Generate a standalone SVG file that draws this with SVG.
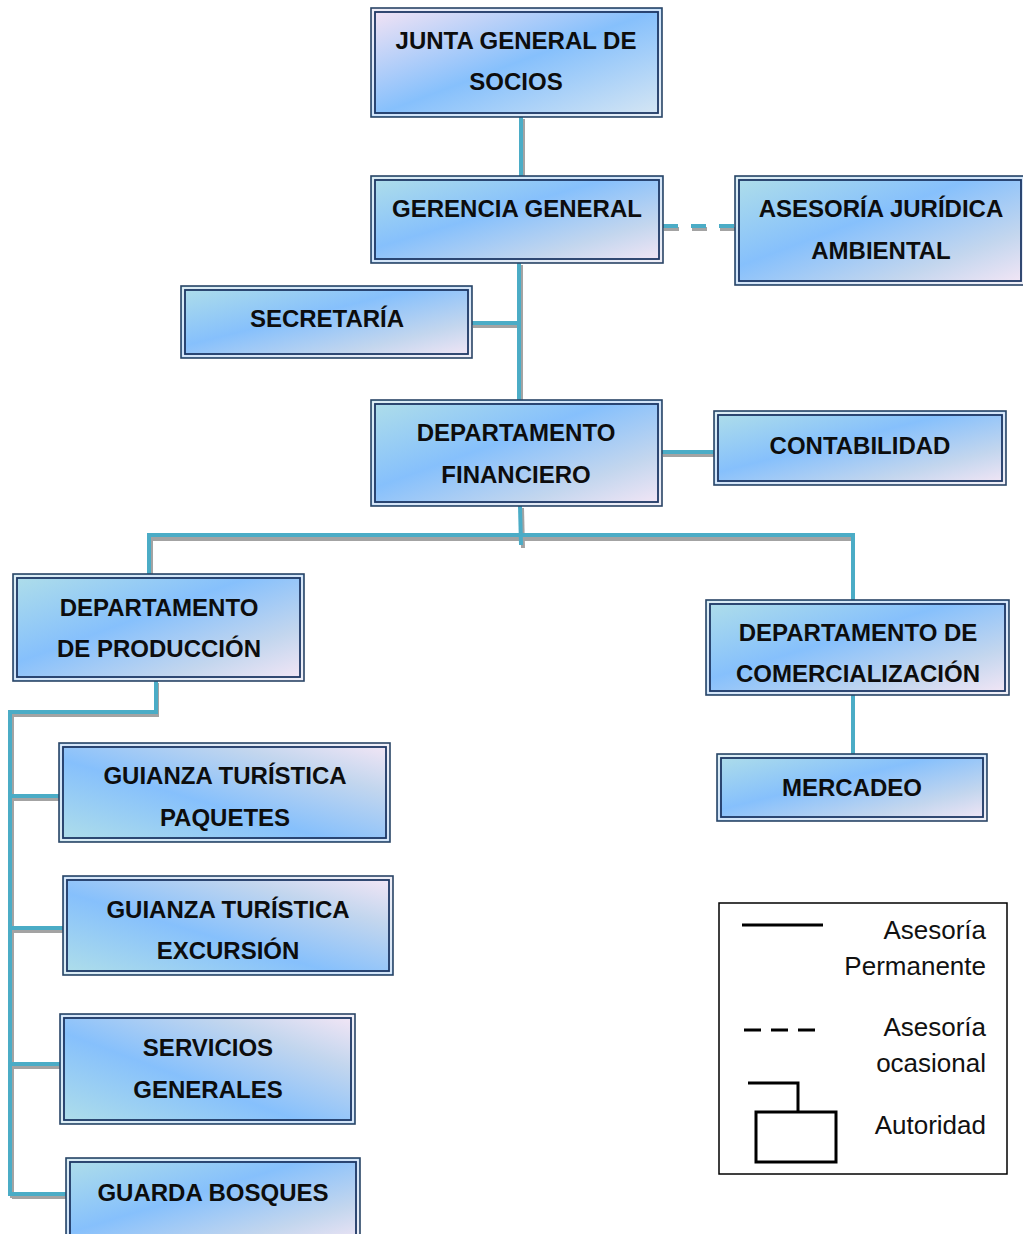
<svg xmlns="http://www.w3.org/2000/svg" width="1023" height="1234" viewBox="0 0 1023 1234">
  <defs>
    <!-- box fills: cyan -> sky blue -> lavender -->
    <linearGradient id="gA" x1="0" y1="0" x2="1" y2="1">
      <stop offset="0" stop-color="#b0dfe9"/>
      <stop offset="0.42" stop-color="#86c0fc"/>
      <stop offset="0.75" stop-color="#c3d6ee"/>
      <stop offset="1" stop-color="#f6e7f6"/>
    </linearGradient>
    <linearGradient id="gB" x1="0" y1="1" x2="1" y2="0">
      <stop offset="0" stop-color="#b0dfe9"/>
      <stop offset="0.42" stop-color="#86c0fc"/>
      <stop offset="0.75" stop-color="#c3d6ee"/>
      <stop offset="1" stop-color="#f6e7f6"/>
    </linearGradient>
    <linearGradient id="gC" x1="0" y1="0" x2="1" y2="1">
      <stop offset="0" stop-color="#f6e4f4"/>
      <stop offset="0.5" stop-color="#86c0fc"/>
      <stop offset="1" stop-color="#d8e7f3"/>
    </linearGradient>
  </defs>
  <style>
    .o { stroke: #2a4566; stroke-width: 1.6; }
    .g { fill: none; stroke: #eef3f8; stroke-width: 1.4; }
    .i { fill: none; stroke: #1f3864; stroke-width: 1.8; }
    .t { font-family: "Liberation Sans", Arial, sans-serif; font-weight: bold; font-size: 24px; fill: #0d0d0d; text-anchor: middle; }
    .sh { fill: none; stroke: #a3a3a3; stroke-width: 4; }
    .ln { fill: none; stroke: #4bacc6; stroke-width: 4; }
    .lg { font-family: "Liberation Sans", Arial, sans-serif; font-size: 26px; fill: #111; text-anchor: end; }
    .k { fill: none; stroke: #000; stroke-width: 3; }
  </style>
  <rect width="1023" height="1234" fill="#fff"/>

  <!-- connectors -->
  <g id="connectors">
    <!-- shadows -->
    <path class="sh" d="M523,119 V178"/>
    <path class="sh" d="M521,265 V402"/>
    <path class="sh" d="M473,326 H520"/>
    <path class="sh" d="M664,229 H735" stroke-dasharray="15 13"/>
    <path class="sh" d="M663,455 H715"/>
    <path class="sh" d="M522,508 L523,548"/>
    <path class="sh" d="M151,539 H851"/>
    <path class="sh" d="M151,539 V582"/>
    <path class="sh" d="M157,683 V715 H12"/>
    <path class="sh" d="M12,715 V1198"/>
    <path class="sh" d="M12,799 H60"/>
    <path class="sh" d="M12,931 H63"/>
    <path class="sh" d="M12,1067 H61"/>
    <path class="sh" d="M12,1197 H67"/>
    <!-- lines -->
    <path class="ln" d="M521,117 V176"/>
    <path class="ln" d="M519,263 V400"/>
    <path class="ln" d="M472,323 H519"/>
    <path class="ln" d="M663,226 H735" stroke-dasharray="15 13"/>
    <path class="ln" d="M662,452 H714"/>
    <path class="ln" d="M520,506 L521,545"/>
    <path class="ln" d="M147,535 H855"/>
    <path class="ln" d="M149,535 V579"/>
    <path class="ln" d="M853,533 V600"/>
    <path class="ln" d="M156,681 V712 H8"/>
    <path class="ln" d="M10,712 V1196"/>
    <path class="ln" d="M10,796 H59"/>
    <path class="ln" d="M10,928 H63"/>
    <path class="ln" d="M10,1064 H60"/>
    <path class="ln" d="M10,1194 H66"/>
    <path class="ln" d="M853,695 V754"/>
  </g>

  <g id="junta">
    <rect class="o" x="371" y="8" width="291" height="109" fill="url(#gC)"/>
    <rect class="g" x="373" y="10" width="287" height="105"/>
    <rect class="i" x="375" y="12" width="283" height="101"/>
    <text class="t" x="516" y="49">JUNTA GENERAL DE</text>
    <text class="t" x="516" y="90">SOCIOS</text>
  </g>

  <g id="gerencia">
    <rect class="o" x="371" y="176" width="292" height="87" fill="url(#gA)"/>
    <rect class="g" x="373" y="178" width="288" height="83"/>
    <rect class="i" x="375" y="180" width="284" height="79"/>
    <text class="t" x="517" y="217">GERENCIA GENERAL</text>
  </g>

  <g id="asesoria">
    <rect class="o" x="735" y="176" width="290" height="109" fill="url(#gA)"/>
    <rect class="g" x="737" y="178" width="286" height="105"/>
    <rect class="i" x="739" y="180" width="282" height="101"/>
    <text class="t" x="881" y="217">ASESORÍA JURÍDICA</text>
    <text class="t" x="881" y="259">AMBIENTAL</text>
  </g>

  <g id="secretaria">
    <rect class="o" x="181" y="286" width="291" height="72" fill="url(#gA)"/>
    <rect class="g" x="183" y="288" width="287" height="68"/>
    <rect class="i" x="185" y="290" width="283" height="64"/>
    <text class="t" x="327" y="327">SECRETARÍA</text>
  </g>

  <g id="financiero">
    <rect class="o" x="371" y="400" width="291" height="106" fill="url(#gA)"/>
    <rect class="g" x="373" y="402" width="287" height="102"/>
    <rect class="i" x="375" y="404" width="283" height="98"/>
    <text class="t" x="516" y="441">DEPARTAMENTO</text>
    <text class="t" x="516" y="483">FINANCIERO</text>
  </g>

  <g id="contabilidad">
    <rect class="o" x="714" y="411" width="292" height="74" fill="url(#gA)"/>
    <rect class="g" x="716" y="413" width="288" height="70"/>
    <rect class="i" x="718" y="415" width="284" height="66"/>
    <text class="t" x="860" y="454">CONTABILIDAD</text>
  </g>

  <g id="produccion">
    <rect class="o" x="13" y="574" width="291" height="107" fill="url(#gA)"/>
    <rect class="g" x="15" y="576" width="287" height="103"/>
    <rect class="i" x="17" y="578" width="283" height="99"/>
    <text class="t" x="159" y="616">DEPARTAMENTO</text>
    <text class="t" x="159" y="657">DE PRODUCCIÓN</text>
  </g>

  <g id="comercializacion">
    <rect class="o" x="706" y="600" width="303" height="95" fill="url(#gA)"/>
    <rect class="g" x="708" y="602" width="299" height="91"/>
    <rect class="i" x="710" y="604" width="295" height="87"/>
    <text class="t" x="858" y="641">DEPARTAMENTO DE</text>
    <text class="t" x="858" y="682">COMERCIALIZACIÓN</text>
  </g>

  <g id="mercadeo">
    <rect class="o" x="717" y="754" width="270" height="67" fill="url(#gA)"/>
    <rect class="g" x="719" y="756" width="266" height="63"/>
    <rect class="i" x="721" y="758" width="262" height="59"/>
    <text class="t" x="852" y="796">MERCADEO</text>
  </g>

  <g id="paquetes">
    <rect class="o" x="59" y="743" width="331" height="99" fill="url(#gB)"/>
    <rect class="g" x="61" y="745" width="327" height="95"/>
    <rect class="i" x="63" y="747" width="323" height="91"/>
    <text class="t" x="225" y="784">GUIANZA TURÍSTICA</text>
    <text class="t" x="225" y="826">PAQUETES</text>
  </g>

  <g id="excursion">
    <rect class="o" x="63" y="876" width="330" height="99" fill="url(#gB)"/>
    <rect class="g" x="65" y="878" width="326" height="95"/>
    <rect class="i" x="67" y="880" width="322" height="91"/>
    <text class="t" x="228" y="918">GUIANZA TURÍSTICA</text>
    <text class="t" x="228" y="959">EXCURSIÓN</text>
  </g>

  <g id="servicios">
    <rect class="o" x="60" y="1014" width="295" height="110" fill="url(#gB)"/>
    <rect class="g" x="62" y="1016" width="291" height="106"/>
    <rect class="i" x="64" y="1018" width="287" height="102"/>
    <text class="t" x="208" y="1056">SERVICIOS</text>
    <text class="t" x="208" y="1098">GENERALES</text>
  </g>

  <g id="guarda">
    <rect class="o" x="66" y="1158" width="294" height="90" fill="url(#gA)"/>
    <rect class="g" x="68" y="1160" width="290" height="86"/>
    <rect class="i" x="70" y="1162" width="286" height="82"/>
    <text class="t" x="213" y="1201">GUARDA BOSQUES</text>
  </g>

  <!-- legend -->
  <g id="legend">
    <rect x="719" y="903" width="288" height="271" fill="#fff" stroke="#000" stroke-width="1.5"/>
    <path class="k" d="M742,925 H823"/>
    <path class="k" d="M744,1030 H817" stroke-dasharray="17 10"/>
    <path class="k" d="M748,1083 H798 V1112"/>
    <rect class="k" x="756" y="1112" width="80" height="50"/>
    <text class="lg" x="986" y="939">Asesoría</text>
    <text class="lg" x="986" y="975">Permanente</text>
    <text class="lg" x="986" y="1036">Asesoría</text>
    <text class="lg" x="986" y="1072">ocasional</text>
    <text class="lg" x="986" y="1134">Autoridad</text>
  </g>
</svg>
